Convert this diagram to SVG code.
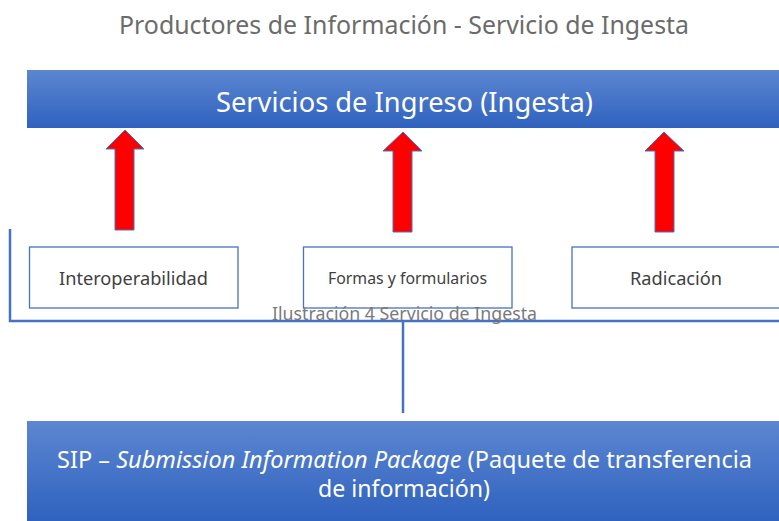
<svg xmlns="http://www.w3.org/2000/svg" width="779" height="521" viewBox="0 0 779 521">
<defs>
<linearGradient id="g" x1="0" y1="0" x2="0" y2="1">
<stop offset="0" stop-color="#5c86d1"/>
<stop offset="1" stop-color="#2f62bf"/>
</linearGradient>
<style>
text{font-family:"Noto Sans","Open Sans",sans-serif}
.bar{fill:url(#g)}
.w{fill:#ffffff}
.box{fill:#ffffff;stroke:#4472c4;stroke-width:1.3}
.lbl{fill:#404040}
.arr{fill:#ff0000;stroke:#4472c4;stroke-width:1}
.ln{fill:none;stroke:#4472c4;stroke-width:2.5}
</style>
</defs>
<rect width="779" height="521" fill="#ffffff"/>
<text x="404" y="34" text-anchor="middle" font-size="25" fill="#6b6b6b" textLength="570" lengthAdjust="spacingAndGlyphs">Productores de Información - Servicio de Ingesta</text>
<g id="ingreso">
<rect class="bar" x="27" y="70" width="760" height="58"/>
<text class="w" x="404.5" y="112" text-anchor="middle" font-size="28" textLength="377" lengthAdjust="spacingAndGlyphs">Servicios de Ingreso (Ingesta)</text>
</g>
<g id="connectors">
<polygon class="arr" points="125,130 144,149 134,149 134,230 115,230 115,149 106,149"/>
<polygon class="arr" points="403,132 422,151 412,151 412,232 393,232 393,151 383,151"/>
<polygon class="arr" points="664,132 684,151 674,151 674,232 655,232 655,151 645,151"/>
<polyline class="ln" points="10,229 10,321 779,321"/>
<line class="ln" x1="403" y1="321" x2="403" y2="413"/>
</g>
<g id="interoperabilidad">
<rect class="box" x="29.5" y="247" width="208.5" height="61"/>
<text class="lbl" x="133.5" y="285" text-anchor="middle" font-size="18" textLength="149" lengthAdjust="spacingAndGlyphs">Interoperabilidad</text>
</g>
<g id="formas">
<rect class="box" x="303.5" y="247" width="208.5" height="61"/>
<text class="lbl" x="407.5" y="284" text-anchor="middle" font-size="15.5" textLength="159" lengthAdjust="spacingAndGlyphs">Formas y formularios</text>
</g>
<g id="radicacion">
<rect class="box" x="572" y="247" width="220" height="61"/>
<text class="lbl" x="676" y="285" text-anchor="middle" font-size="18" textLength="92" lengthAdjust="spacingAndGlyphs">Radicación</text>
</g>
<text x="404.5" y="320" text-anchor="middle" font-size="18.5" fill="#7a7a7a" textLength="265" lengthAdjust="spacingAndGlyphs">Ilustración 4 Servicio de Ingesta</text>
<g id="sip">
<rect class="bar" x="27" y="421" width="760" height="100"/>
<text class="w" x="57" y="468" font-size="23.5" textLength="695" lengthAdjust="spacingAndGlyphs">SIP – <tspan font-style="italic">Submission Information Package</tspan> (Paquete de transferencia</text>
<text class="w" x="404" y="497" text-anchor="middle" font-size="23.5" textLength="172" lengthAdjust="spacingAndGlyphs">de información)</text>
</g>
</svg>
